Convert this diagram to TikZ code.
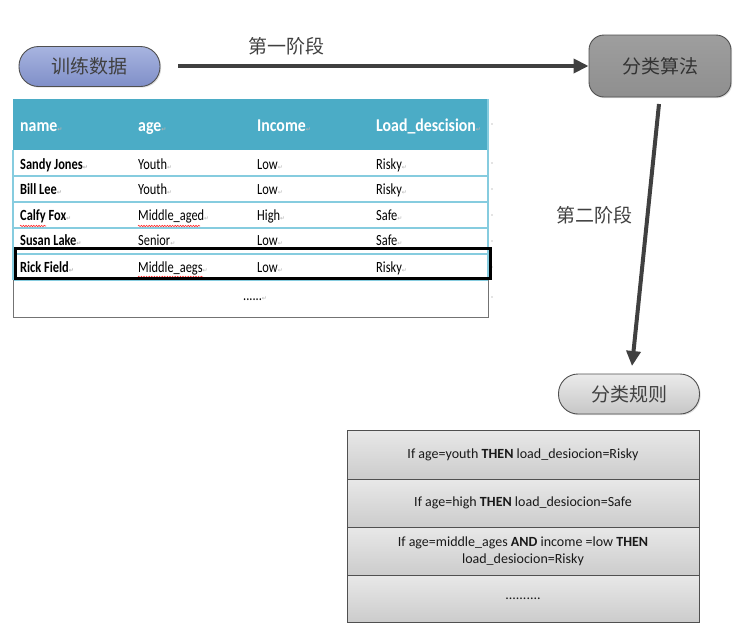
\documentclass[tikz,border=0pt]{standalone}
\usepackage{fontspec}
\setmainfont{Carlito}
\newfontfamily\condfont[FakeStretch=0.8]{Carlito}
\newfontfamily\headfont[FakeStretch=0.88]{Carlito}
\newfontfamily\cjk{Noto Sans CJK SC}
\newfontfamily\dejavu{DejaVu Sans}
\usetikzlibrary{arrows.meta,decorations.pathmorphing,shadows}
\definecolor{arrowgray}{HTML}{404040}
\definecolor{headblue}{HTML}{4BACC6}
\definecolor{linecyan}{HTML}{86CCDF}
\definecolor{borderg}{HTML}{505050}
\newcommand\parmark{{\dejavu\fontsize{6}{6}\selectfont\color{gray!60}↵}}
\begin{document}
\begin{tikzpicture}[x=1pt,y=-1pt,
  cjktext/.style={font=\cjk\fontsize{19}{21}\selectfont, text=black!75},
  pillbox/.style={draw=borderg, line width=0.9pt, rounded corners=19.5pt,
    minimum width=141pt, minimum height=40pt, inner sep=0pt,
    font=\cjk\fontsize{19}{21}\selectfont, text=black!75,
    drop shadow={shadow xshift=1.2pt, shadow yshift=-1.2pt, opacity=0.25}},
  algobox/.style={draw=borderg, line width=0.9pt, rounded corners=15pt,
    minimum width=142pt, minimum height=62pt, inner sep=0pt,
    top color=black!38, bottom color=black!44,
    font=\cjk\fontsize{19}{21}\selectfont, text=black!80,
    drop shadow={shadow xshift=1.2pt, shadow yshift=-1.2pt, opacity=0.25}},
  flowarrow/.style={draw=arrowgray, line width=4pt,
    -{Triangle[length=15pt,width=14pt]}},
  headtext/.style={anchor=base west, inner sep=0pt, text=white,
    font=\headfont\bfseries\fontsize{18}{18}\selectfont},
  celltext/.style={anchor=base west, inner sep=0pt, text=black,
    font=\condfont\fontsize{15.5}{16}\selectfont},
  namecell/.style={celltext, font=\condfont\bfseries\fontsize{15.5}{16}\selectfont},
  rulecell/.style={draw=borderg, line width=0.8pt, minimum width=352pt,
    inner sep=0pt, top color=black!9, bottom color=black!20,
    font=\fontsize{14}{17}\selectfont, align=center, text=black!90},
  squig/.style={draw=red!85, line width=0.6pt, decorate,
    decoration={snake, amplitude=0.7pt, segment length=2.6pt}},
  tline/.style={draw=linecyan, line width=1.1pt},
  gline/.style={draw=black!55, line width=0.9pt}
]
\useasboundingbox (0,0) rectangle (745,638);

% --- top nodes
\node[pillbox, top color={rgb,255:red,168;green,180;blue,224}, bottom color={rgb,255:red,128;green,143;blue,200}] (train) at (89.5,66.5) {训练数据};
\node[algobox] (algo) at (660,66) {分类算法};
\node[pillbox, top color=black!8, bottom color=black!22] (rule) at (629,394) {分类规则};

% --- arrows
\draw[flowarrow, shorten <=18pt] (train.east |- algo.west) -- (algo.west);
\node[cjktext] (stage1) at (286,46) {第一阶段};
\coordinate (a2s) at (659,104);
\coordinate (a2e) at (632,366);
\draw[flowarrow] (a2s) -- (a2e);
\node[cjktext] (stage2) at (594,215) {第二阶段};

% --- data table
\fill[headblue] (13,99) rectangle (488,150);
\foreach \yy in {176,202,228,254,280} {\draw[tline] (13,\yy) -- (488,\yy);}
\draw[tline] (13,150) -- (13,280);
\draw[tline] (488,99) -- (488,280);
\draw[gline] (13,280) -- (13,317) -- (488,317) -- (488,280);

\node[headtext] (hname) at (20,131) {name\parmark};
\node[headtext] (hage) at (138,131) {age\parmark};
\node[headtext] (hinc) at (257,131) {Income\parmark};
\node[headtext] (hload) at (376,131) {Load\_descision\parmark};

\node[namecell] (n1) at (20,169) {Sandy Jones\parmark};
\node[celltext] (a1) at (138,169) {Youth\parmark};
\node[celltext] (i1) at (257,169) {Low\parmark};
\node[celltext] (l1) at (376,169) {Risky\parmark};

\node[namecell] (n2) at (20,194.5) {Bill Lee\parmark};
\node[celltext] (a2) at (138,194.5) {Youth\parmark};
\node[celltext] (i2) at (257,194.5) {Low\parmark};
\node[celltext] (l2) at (376,194.5) {Risky\parmark};

\node[namecell] (n3) at (20,220) {Calfy Fox\parmark};
\node[celltext] (a3) at (138,220) {Middle\_aged\parmark};
\node[celltext] (i3) at (257,220) {High\parmark};
\node[celltext] (l3) at (376,220) {Safe\parmark};

\node[namecell] (n4) at (20,245.5) {Susan Lake\parmark};
\node[celltext] (a4) at (138,245.5) {Senior\parmark};
\node[celltext] (i4) at (257,245.5) {Low\parmark};
\node[celltext] (l4) at (376,245.5) {Safe\parmark};

\node[namecell] (n5) at (20,272) {Rick Field\parmark};
\node[celltext] (a5) at (138,272) {Middle\_aegs\parmark};
\node[celltext] (i5) at (257,272) {Low\parmark};
\node[celltext] (l5) at (376,272) {Risky\parmark};

\node[celltext] (dots) at (243,300) {......\parmark};

% spelling squiggles
\draw[squig] (20,226) -- (46,226);
\draw[squig] (138,226) -- (200,226);
\draw[squig] (138,277) -- (203,277);

% end-of-row marks
\foreach \yy in {124,163,189,215,241,267,297} {\fill[black!45] (492,\yy) circle (0.7pt);}

% highlighted row
\draw[black, line width=3pt] (15,248) rectangle (490,278);

% --- rules table
\node[rulecell, minimum height=49pt] (r1) at (523,454.5) {If age=youth \textbf{THEN} load\_desiocion=Risky};
\node[rulecell, minimum height=48pt] (r2) at (523,503) {If age=high \textbf{THEN} load\_desiocion=Safe};
\node[rulecell, minimum height=48pt] (r3) at (523,551) {If age=middle\_ages \textbf{AND} income =low \textbf{THEN}\\load\_desiocion=Risky};
\node[rulecell, minimum height=47pt] (r4) at (523,598.5) {..........};
\end{tikzpicture}
\end{document}
